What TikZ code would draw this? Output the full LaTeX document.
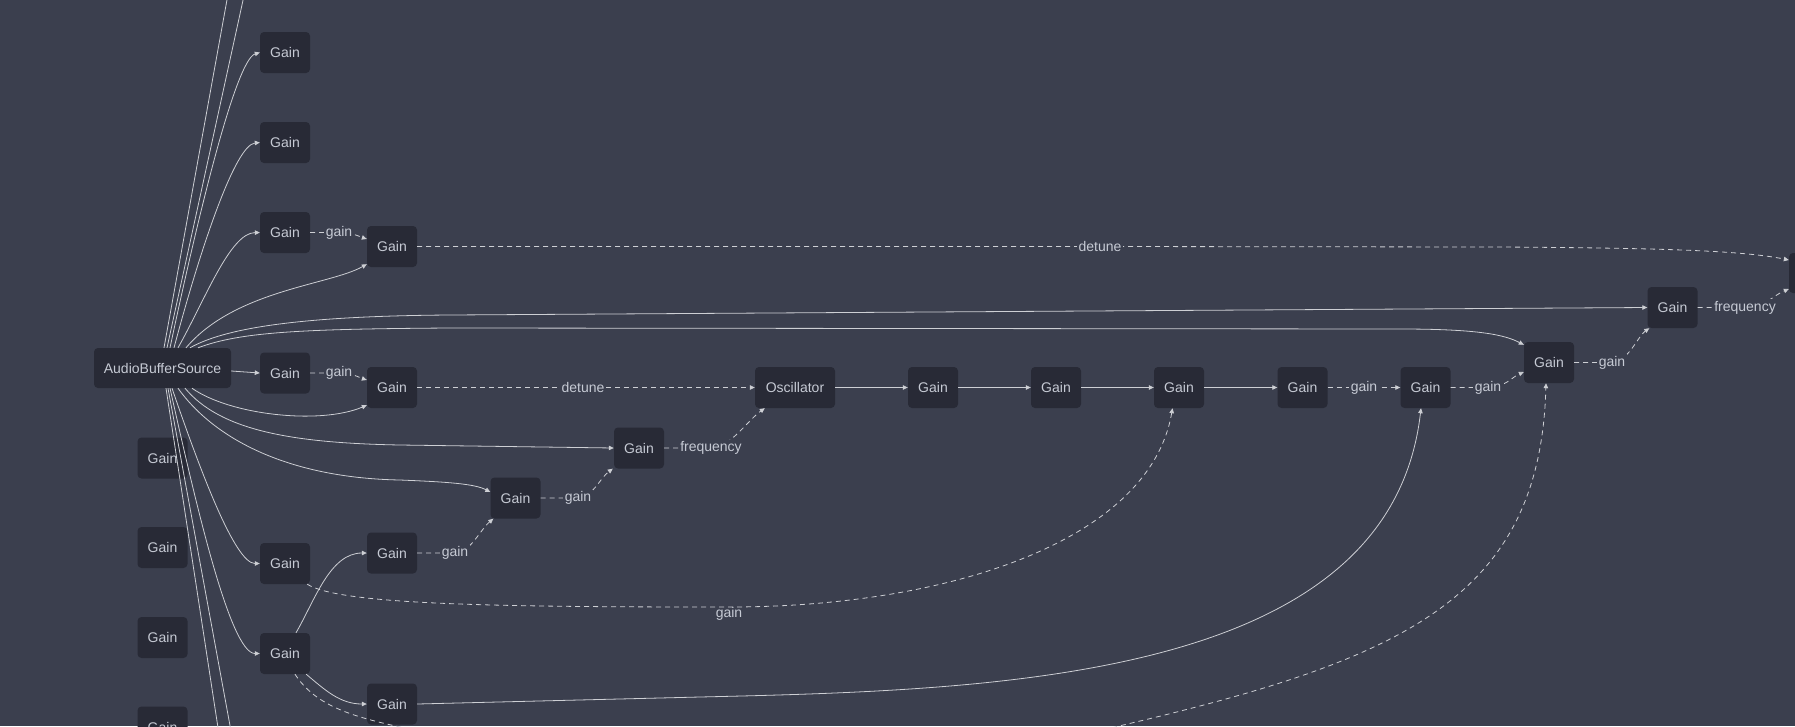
\documentclass[tikz,border=0pt]{standalone}
\usepackage{fontspec}
\setmainfont{Liberation Sans}
\usetikzlibrary{arrows.meta,calc}
\definecolor{bg}{HTML}{3B3F4E}
\definecolor{nodefill}{HTML}{282A36}
\definecolor{txt}{HTML}{C6CAD4}
\definecolor{wire}{HTML}{CDCFD4}

\begin{document}
\begin{tikzpicture}[x=1pt,y=-1pt,
  box/.style={rectangle, rounded corners=4pt, fill=nodefill, text=txt,
    minimum width=50pt, minimum height=41pt, inner sep=0pt,
    font=\fontsize{14}{16}\selectfont},
  widebox/.style={box, minimum width=#1},
  flow/.style={draw=wire, line width=0.8pt, -{Triangle[length=5pt,width=4.5pt]}},
  param/.style={flow, dash pattern=on 5pt off 4pt},
  lbl/.style={fill=bg, text=txt, inner sep=1.5pt, font=\fontsize{14}{16}\selectfont},
  lblfree/.style={text=txt, inner sep=0pt, font=\fontsize{14}{16}\selectfont},
]
% canvas
\fill[bg] (0,0) rectangle (1795,726);
\useasboundingbox (0,0) rectangle (1795,726);
\clip (0,0) rectangle (1795,726);

% ---- nodes ----
\node[widebox=137pt, minimum height=40pt] (src) at (162.5,368) {AudioBufferSource};
\node[box] (gA) at (285,52.5) {Gain};
\node[box] (gB) at (285,142.5) {Gain};
\node[box] (gC) at (285,232.5) {Gain};
\node[box] (gD) at (392,246.5) {Gain};
\node[box] (gE) at (285,373) {Gain};
\node[box] (gF) at (392,387.5) {Gain};
\node[box] (lone1) at (162.5,458) {Gain};
\node[box] (lone2) at (162.5,547.5) {Gain};
\node[box] (lone3) at (162.5,637.5) {Gain};
\node[box] (lone4) at (162.5,727) {Gain};
\node[box] (gG) at (285,563.5) {Gain};
\node[box] (gH) at (285,653.5) {Gain};
\node[box] (gI) at (392,553) {Gain};
\node[box] (gJ) at (392,704) {Gain};
\node[box] (gL) at (515.5,498) {Gain};
\node[box] (gK) at (639,448) {Gain};
\node[widebox=80pt] (osc) at (795,387.5) {Oscillator};
\node[box] (c1) at (933,387.5) {Gain};
\node[box] (c2) at (1056,387.5) {Gain};
\node[box] (c3) at (1179,387.5) {Gain};
\node[box] (c4) at (1302.5,387.5) {Gain};
\node[box] (c5) at (1425.5,387.5) {Gain};
\node[box] (gN) at (1549,362.5) {Gain};
\node[box] (gM) at (1672.5,307.5) {Gain};
\node[widebox=80pt, minimum height=40pt] (far) at (1829,273) {};

% free ends of connectors leaving the canvas
\coordinate (upA) at (236,-50);
\coordinate (upB) at (254,-50);
\coordinate (downA) at (226,780);
\coordinate (downB) at (240,780);

% ---- audio connections out of the source ----
\draw[flow] ($(src.north)+(1.5,0)$) -- (upA);
\draw[flow] ($(src.north)+(4.5,0)$) -- (upB);
\draw[flow] ($(src.north)+(7.5,0)$) .. controls (195,230) and (235,60) .. (gA.west);
\draw[flow] ($(src.north)+(11.5,0)$) .. controls (200,250) and (235,145) .. (gB.west);
\draw[flow] ($(src.north)+(15.5,0)$) .. controls (205,300) and (230,233) .. (gC.west);
\draw[flow] ($(src.north)+(23.5,0)$) .. controls (235,290) and (330,285) .. ($(gD.south west)+(0,-3)$);
\draw[flow] ($(src.north)+(27.5,0)$) .. controls (225,328) and (300,316) .. (450,315) -- (gM.west);
\draw[flow] ($(src.north)+(35.5,0)$) .. controls (240,332) and (300,329) .. (450,328) -- (1400,329)
  .. controls (1480,329) and (1505,335) .. ($(gN.north west)+(0,3)$);
\draw[flow] ($(src.east)+(0,3)$) -- (gE.west);
\draw[flow] ($(src.south)+(29.5,0)$) .. controls (230,415) and (320,425) .. ($(gF.south west)+(0,-3)$);
\draw[flow] ($(src.south)+(22.5,0)$) .. controls (220,430) and (290,443) .. (400,445) -- (gK.west);
\draw[flow] ($(src.south)+(15.5,0)$) .. controls (215,440) and (290,478) .. (400,480)
  .. controls (450,482) and (475,484) .. ($(gL.west)+(0,-6)$);
\draw[flow] ($(src.south)+(9.5,0)$) .. controls (200,470) and (235,563.5) .. (gG.west);
\draw[flow] ($(src.south)+(7.5,0)$) .. controls (195,500) and (230,653.5) .. (gH.west);
\draw[flow] ($(src.south)+(3.5,0)$) -- (downA);
\draw[flow] ($(src.south)+(5.5,0)$) -- (downB);

% ---- parameter connections ----
\draw[param] (gC.east) -- (339,232.5) node[lbl] {gain}
  .. controls (352,232.5) and (358,236) .. ($(gD.west)+(0,-7.5)$);
\draw[param] (gE.east) -- (339,373) node[lbl] {gain}
  .. controls (352,373) and (358,377) .. ($(gF.west)+(0,-7.5)$);
\draw[param] (gD.east) -- (1100,246.5) node[lbl] {detune} -- (1500,247)
  .. controls (1650,248) and (1740,250) .. ($(far.west)+(0,-13)$);
\draw[param] (gF.east) -- (583,387.5) node[lbl] {detune} -- (osc.west);
\draw[param] (gK.east) -- (711,448) node[lbl] {frequency}
  .. controls (730,448) and (748,420) .. ($(osc.south west)+(10,0)$);
\draw[param] (gL.east) -- (578,498) node[lbl] {gain}
  .. controls (592,498) and (600,478) .. ($(gK.south west)+(-1,0)$);
\draw[param] (gI.east) -- (455,553) node[lbl] {gain}
  .. controls (470,553) and (480,530) .. ($(gL.south west)+(3,0)$);
\draw[param] ($(gG.south east)+(-3,0)$) .. controls (340,605) and (500,607) .. (729,607)
  node[lblfree, anchor=north] {gain}
  .. controls (950,607) and (1150,540) .. ($(c3.south)+(-6.5,0)$);
\draw[param] (c4.east) -- (1364,387.5) node[lbl] {gain} -- (c5.west);
\draw[param] (c5.east) -- (1488,387.5) node[lbl] {gain}
  .. controls (1505,387.5) and (1512,377) .. ($(gN.west)+(0,9.5)$);
\draw[param] (gN.east) -- (1612,362.5) node[lbl] {gain}
  .. controls (1628,362) and (1638,336) .. ($(gM.south west)+(2,0)$);
\draw[param] (gM.east) -- (1745,307.5) node[lbl] {frequency}
  .. controls (1765,307.5) and (1772,296) .. ($(far.west)+(0,16)$);
\draw[param] ($(gH.south)+(10,0)$) .. controls (315,705) and (350,716) .. (400,727)
  .. controls (600,770) and (950,770) .. (1119,726)
  .. controls (1400,660) and (1540,600) .. ($(gN.south)+(-3,0)$);

% ---- oscillator chain ----
\draw[flow] (osc) -- (c1);
\draw[flow] (c1) -- (c2);
\draw[flow] (c2) -- (c3);
\draw[flow] (c3) -- (c4);

% ---- from the lower gains ----
\draw[flow] ($(gH.north)+(11,0)$) .. controls (315,600) and (330,553) .. (gI.west);
\draw[flow] ($(gH.south east)+(-4,0)$) .. controls (325,690) and (340,704) .. (gJ.west);
\draw[flow] (gJ.east) -- (700,697) .. controls (1000,690) and (1390,680) .. ($(c5.south)+(-4.5,0)$);
\end{tikzpicture}
\end{document}
